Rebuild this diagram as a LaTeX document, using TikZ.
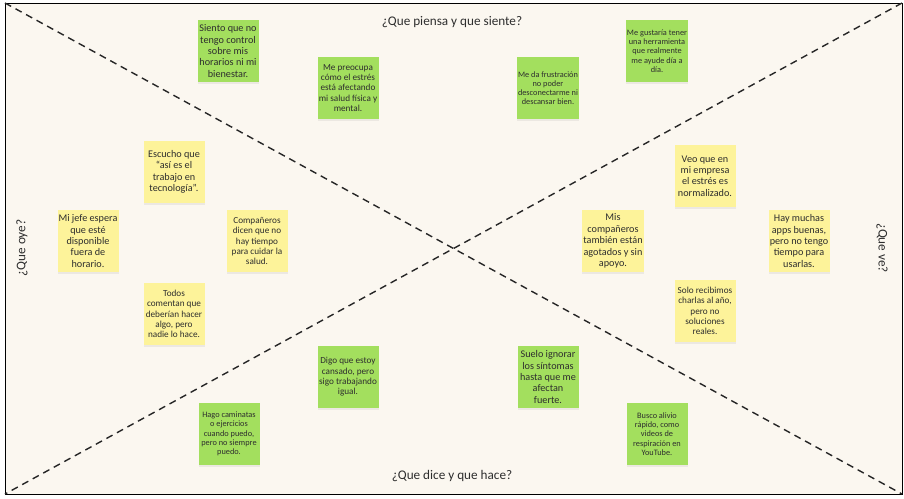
\documentclass[tikz,border=0pt]{standalone}
\usepackage{fontspec}
\setmainfont{Carlito}
\usetikzlibrary{shadows}
\definecolor{bgcream}{HTML}{FBF7F0}
\definecolor{notegreen}{HTML}{A3DF5E}
\definecolor{noteyellow}{HTML}{FDF39A}
\definecolor{inkgray}{HTML}{2E2E2E}
\tikzset{
  note/.style={minimum width=61pt, minimum height=62pt, align=center,
    inner sep=1pt, text=inkgray, font=\fontsize{10.2}{11.4}\selectfont,
    drop shadow={shadow xshift=0pt, shadow yshift=-2pt, opacity=0.12}},
  gnote/.style={note, fill=notegreen},
  ynote/.style={note, fill=noteyellow},
  midtxt/.style={font=\fontsize{9.2}{10.4}\selectfont},
  smalltxt/.style={font=\fontsize{8.3}{9.2}\selectfont},
  title/.style={font=\fontsize{13.2}{15}\selectfont, text=inkgray},
  diag/.style={line width=1.4pt, dash pattern=on 7pt off 5pt, draw=black!85}
}
\begin{document}
\begin{tikzpicture}[x=1pt,y=-1pt]
\useasboundingbox (0,0) rectangle (904,498);
\fill[white] (0,0) rectangle (904,498);
\coordinate (tl) at (5,3);
\coordinate (tr) at (902,3);
\coordinate (bl) at (5,494);
\coordinate (br) at (902,494);
\filldraw[fill=bgcream, draw=black, line width=1pt] (tl) rectangle (br);
\draw[diag] (tl) -- (br);
\draw[diag] (tr) -- (bl);

\node[title] (t1) at (452,22) {¿Que piensa y que siente?};
\node[title] (t2) at (452,476) {¿Que dice y que hace?};
\node[title, rotate=90] (t3) at (22,248) {¿Que oye?};
\node[title, rotate=-90] (t4) at (882,248) {¿Que ve?};

\node[gnote] (n1) at (228,51) {Siento que no\\tengo control\\sobre mis\\horarios ni mi\\bienestar.};
\node[gnote, midtxt] (n2) at (348,88) {Me preocupa\\cómo el estrés\\está afectando\\mi salud física y\\mental.};
\node[gnote, smalltxt] (n3) at (548,88) {Me da frustración\\no poder\\desconectarme ni\\descansar bien.};
\node[gnote, smalltxt] (n4) at (657,51) {Me gustaría tener\\una herramienta\\que realmente\\me ayude día a\\día.};

\node[ynote] (n5) at (174,172) {Escucho que\\“así es el\\trabajo en\\tecnología”.};
\node[ynote] (n6) at (88,241) {Mi jefe espera\\que esté\\disponible\\fuera de\\horario.};
\node[ynote, midtxt] (n7) at (257,241) {Compañeros\\dicen que no\\hay tiempo\\para cuidar la\\salud.};
\node[ynote, midtxt] (n8) at (174,314) {Todos\\comentan que\\deberían hacer\\algo, pero\\nadie lo hace.};

\node[gnote, midtxt] (n9) at (348,377) {Digo que estoy\\cansado, pero\\sigo trabajando\\igual.};
\node[gnote, smalltxt] (n10) at (229,434) {Hago caminatas\\o ejercicios\\cuando puedo,\\pero no siempre\\puedo.};
\node[gnote] (n11) at (548,377) {Suelo ignorar\\los síntomas\\hasta que me\\afectan\\fuerte.};
\node[gnote, smalltxt] (n12) at (657,434) {Busco alivio\\rápido, como\\videos de\\respiración en\\YouTube.};

\node[ynote] (n13) at (705,176) {Veo que en\\mi empresa\\el estrés es\\normalizado.};
\node[ynote] (n14) at (613,241) {Mis\\compañeros\\también están\\agotados y sin\\apoyo.};
\node[ynote] (n15) at (799,241) {Hay muchas\\apps buenas,\\pero no tengo\\tiempo para\\usarlas.};
\node[ynote, midtxt] (n16) at (705,311) {Solo recibimos\\charlas al año,\\pero no\\soluciones\\reales.};
\end{tikzpicture}
\end{document}
